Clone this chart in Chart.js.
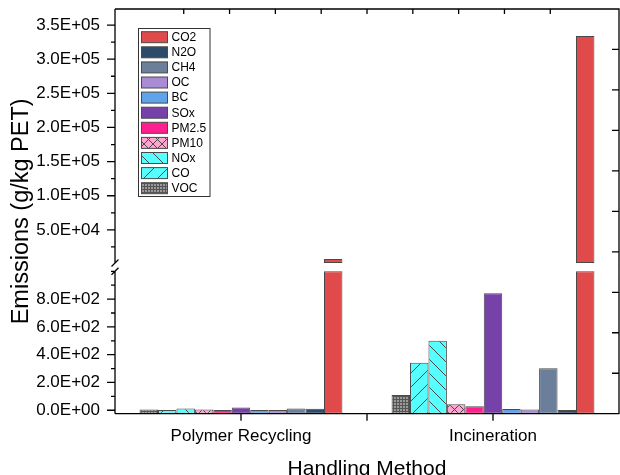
<!DOCTYPE html>
<html>
<head>
<meta charset="utf-8">
<script src="https://cdn.jsdelivr.net/npm/chart.js@4.4.0/dist/chart.umd.min.js"></script>
<style>
  html, body { margin: 0; padding: 0; background: #fff; }
</style>
</head>
<body>
<canvas id="emissionsChart" width="620" height="475"></canvas>
<script>
const categories = ['Polymer Recycling', 'Incineration'];
// bar order inside each group, left to right (legend shows it reversed)
const gases = ['VOC', 'CO', 'NOx', 'PM10', 'PM2.5', 'SOx', 'BC', 'OC', 'CH4', 'N2O', 'CO2'];
const recycling = [6, 1, 12, 6, 1, 20, 2, 2, 12, 10, 7500];
const incineration = [110, 342, 501, 43, 29, 842, 9, 6, 302, 2, 334000];
const upperTicks = [50000, 100000, 150000, 200000, 250000, 300000, 350000];
const lowerTicks = [0, 200, 400, 600, 800];

// broken axis: lower panel and upper panel
const LOW_MIN = -25, LOW_MAX = 1060, LOW_CUT = 1000;
const UP_MIN = 1500, UP_MAX = 373500;

const FONT = "'Liberation Sans', Arial, sans-serif";

function tile(bg, size, draw, line) {
  const c = document.createElement('canvas');
  c.width = c.height = size;
  const g = c.getContext('2d');
  g.fillStyle = bg;
  g.fillRect(0, 0, size, size);
  g.strokeStyle = line || '#4a4a4a';
  g.lineWidth = 1;
  g.beginPath();
  draw(g, size);
  g.stroke();
  return g.createPattern(c, 'repeat');
}
const slash = (g, s) => { for (let k = -1; k <= 1; k++) { g.moveTo(k * s, s); g.lineTo(k * s + s, 0); } };
const backslash = (g, s) => { for (let k = -1; k <= 1; k++) { g.moveTo(k * s, 0); g.lineTo(k * s + s, s); } };

const fills = {
  'VOC': tile('#9a9a9a', 3, (g) => { g.moveTo(0.5, 0); g.lineTo(0.5, 3); g.moveTo(0, 0.5); g.lineTo(3, 0.5); }, '#555'),
  'CO': tile('#55ffff', 14, slash),
  'NOx': tile('#55ffff', 14, backslash),
  'PM10': tile('#ffa3d1', 9, (g, s) => { slash(g, s); backslash(g, s); }),
  'PM2.5': '#ff1f8f',
  'SOx': '#7641a9',
  'BC': '#5fa3eb',
  'OC': '#a98bd6',
  'CH4': '#6b7f9a',
  'N2O': '#2d4a6b',
  'CO2': '#e04a4a'
};

const datasets = [];
gases.forEach((g, i) => {
  const vals = [recycling[i], incineration[i]];
  datasets.push({
    label: g, stack: g, yAxisID: 'yLow', base: LOW_MIN,
    data: vals.map(v => Math.min(v, LOW_CUT)),
    backgroundColor: fills[g], borderColor: '#4a4a4a', borderWidth: 1, borderSkipped: false
  });
});
gases.forEach((g, i) => {
  const vals = [recycling[i], incineration[i]];
  datasets.push({
    label: g, stack: g, yAxisID: 'yUp', base: UP_MIN,
    data: vals.map(v => v > UP_MIN ? v : null),
    backgroundColor: fills[g], borderColor: '#4a4a4a', borderWidth: 1, borderSkipped: false
  });
});

function sci(v) {
  const [m, e] = Number(v).toExponential(1).split('e');
  return m + 'E' + e[0] + e.slice(1).padStart(2, '0');
}

const frame = {
  id: 'frame',
  afterDatasetsDraw(chart) {
    const {ctx, chartArea: a} = chart;
    const {x, yUp, yLow, xTop, yRight} = chart.scales;
    const ax = a.left;
    const upEnd = yUp.bottom;
    const lowStart = yLow.getPixelForValue(LOW_CUT);
    ctx.save();
    ctx.strokeStyle = '#000';
    ctx.lineWidth = 1.3;
    ctx.beginPath();
    ctx.moveTo(ax, a.top); ctx.lineTo(ax, upEnd);
    ctx.moveTo(ax, lowStart); ctx.lineTo(ax, a.bottom);
    [upEnd, lowStart].forEach(y => { ctx.moveTo(ax - 3.5, y + 3.5); ctx.lineTo(ax + 3.5, y - 3.5); });
    ctx.moveTo(a.left, a.top); ctx.lineTo(a.right, a.top);
    ctx.lineTo(a.right, a.bottom); ctx.lineTo(a.left, a.bottom);

    const left = (scale, v, len) => { const p = scale.getPixelForValue(v); ctx.moveTo(ax - len, p); ctx.lineTo(ax, p); };
    upperTicks.forEach(v => left(yUp, v, 8));
    lowerTicks.forEach(v => left(yLow, v, 8));
    for (let v = 25000; v < UP_MAX; v += 50000) left(yUp, v, 4);
    for (let v = 100; v <= LOW_CUT; v += 100) if (!lowerTicks.includes(v)) left(yLow, v, 4);

    const p0 = x.getPixelForTick(0), p1 = x.getPixelForTick(1);
    [p0, (p0 + p1) / 2, p1].forEach(p => { ctx.moveTo(p, a.bottom); ctx.lineTo(p, a.bottom + 7); });
    for (let i = 1; i < 10; i++) {
      const px = xTop.getPixelForValue(i);
      ctx.moveTo(px, a.top); ctx.lineTo(px, a.top + 5);
    }
    for (let i = 0; i < 10; i++) {
      const py = yRight.getPixelForValue(i);
      ctx.moveTo(a.right, py); ctx.lineTo(a.right - 7, py);
    }
    ctx.stroke();
    ctx.restore();
  },
  afterDraw(chart) {
    const {ctx, chartArea: a} = chart;
    ctx.save();
    // y axis title, centred on the whole broken axis
    ctx.fillStyle = '#000';
    ctx.font = '23.5px ' + FONT;
    ctx.textAlign = 'center';
    ctx.textBaseline = 'middle';
    ctx.translate(21.5, (a.top + a.bottom) / 2);
    ctx.rotate(-Math.PI / 2);
    ctx.fillText('Emissions (g/kg PET)', 0, 0);
    ctx.restore();

    // legend
    ctx.save();
    const lx = 138.5, ly = 28.5, lw = 71.5, lh = 168;
    ctx.fillStyle = '#fff';
    ctx.fillRect(lx, ly, lw, lh);
    ctx.strokeStyle = '#333';
    ctx.lineWidth = 1;
    ctx.strokeRect(lx, ly, lw, lh);
    ctx.font = '12px ' + FONT;
    ctx.textBaseline = 'middle';
    ctx.textAlign = 'left';
    gases.slice().reverse().forEach((g, i) => {
      const cy = 37.2 + i * 15.1;
      ctx.fillStyle = fills[g];
      ctx.fillRect(141.5, cy - 5.5, 26, 11);
      ctx.strokeStyle = '#4a4a4a';
      ctx.strokeRect(141.5, cy - 5.5, 26, 11);
      ctx.fillStyle = '#000';
      ctx.fillText(g, 171.5, cy + 0.5);
    });
    ctx.restore();
  }
};

const tickFont = {family: FONT, size: 17};
const fitY = s => { s.width = 115; s.paddingTop = 0; s.paddingBottom = 0; };

new Chart(document.getElementById('emissionsChart'), {
  type: 'bar',
  data: {labels: categories, datasets: datasets},
  options: {
    responsive: false,
    animation: false,
    devicePixelRatio: 1,
    layout: {padding: {top: 9, right: 1, left: 0, bottom: 0}},
    datasets: {bar: {categoryPercentage: 0.805, barPercentage: 1}},
    plugins: {legend: {display: false}, tooltip: {enabled: false}},
    scales: {
      x: {
        type: 'category',
        grid: {display: false, drawTicks: false},
        border: {display: false},
        ticks: {font: tickFont, color: '#000', padding: 12},
        title: {display: true, text: 'Handling Method', color: '#000',
                font: {family: FONT, size: 21}, padding: {top: 0, bottom: -6.5}},
        afterFit: s => { s.height = 61.3; s.paddingLeft = 0; s.paddingRight = 0; }
      },
      // defined first so the layout stacks it below the upper panel
      yLow: {
        type: 'linear', position: 'left', stack: 'emis', stackWeight: 150.7,
        min: LOW_MIN, max: LOW_MAX, stacked: false,
        grid: {display: false, drawTicks: false},
        border: {display: false},
        afterBuildTicks: s => { s.ticks = lowerTicks.map(v => ({value: v})); },
        ticks: {autoSkip: false, padding: 15, font: tickFont, color: '#000', callback: v => sci(v)},
        afterFit: fitY
      },
      yUp: {
        type: 'linear', position: 'left', stack: 'emis', stackWeight: 254,
        min: UP_MIN, max: UP_MAX, stacked: false,
        grid: {display: false, drawTicks: false},
        border: {display: false},
        afterBuildTicks: s => { s.ticks = upperTicks.map(v => ({value: v})); },
        ticks: {autoSkip: false, padding: 15, font: tickFont, color: '#000', callback: v => sci(v)},
        afterFit: fitY
      },
      xTop: {type: 'linear', position: 'top', display: false, min: 0, max: 10},
      yRight: {type: 'linear', position: 'right', display: false, min: 0, max: 10}
    }
  },
  plugins: [frame]
});
</script>
</body>
</html>
